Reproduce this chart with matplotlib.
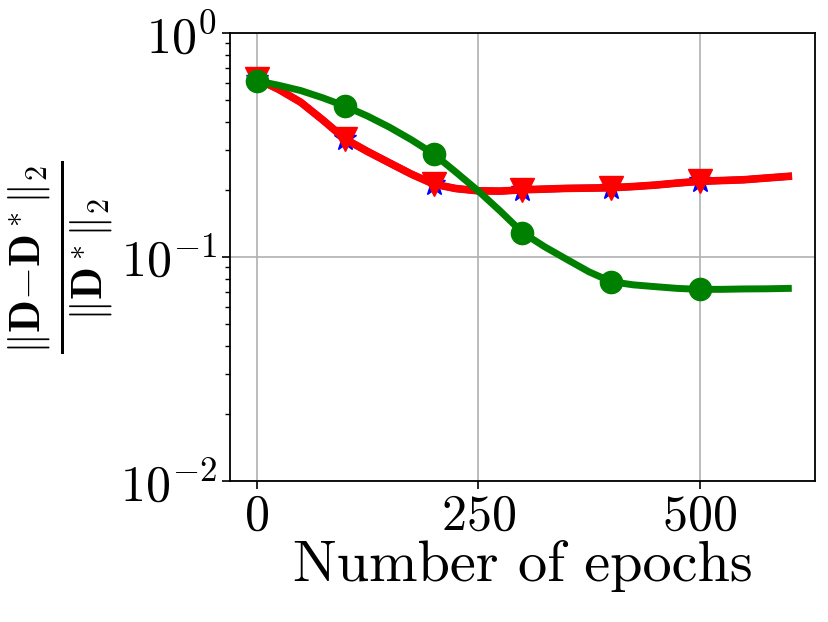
import numpy as np
import matplotlib
matplotlib.use('Agg')
import matplotlib.pyplot as plt

plt.rcParams['mathtext.fontset'] = 'cm'
plt.rcParams['font.family'] = 'serif'
plt.rcParams['font.serif'] = ['cmr10']
plt.rcParams['axes.formatter.use_mathtext'] = True

# values (every 25 epochs, markers every 100)
epochs = [0, 25, 50, 75, 100, 125, 150, 175, 200, 225, 250, 275, 300,
          325, 350, 375, 400, 425, 450, 475, 500, 525, 550, 575, 600]
err_red = [0.625, 0.560, 0.490, 0.408, 0.336, 0.296, 0.263, 0.234, 0.2115, 0.202, 0.1974, 0.1968, 0.1995,
           0.2009, 0.2024, 0.2030, 0.2037, 0.2062, 0.2094, 0.2138, 0.2176, 0.2194, 0.2212, 0.2251, 0.229]
err_blue = [0.625, 0.560, 0.490, 0.408, 0.336, 0.296, 0.263, 0.234, 0.2115, 0.202, 0.1974, 0.1968, 0.1995,
            0.2009, 0.2024, 0.2030, 0.2037, 0.2062, 0.2094, 0.2138, 0.2176, 0.2194, 0.2212, 0.2251, 0.229]
err_green = [0.612, 0.584, 0.553, 0.513, 0.471, 0.426, 0.3795, 0.333, 0.288, 0.239, 0.1974, 0.1602, 0.1286,
             0.1111, 0.0976, 0.0859, 0.0776, 0.0751, 0.0737, 0.0724, 0.0717, 0.0717, 0.0720, 0.0721, 0.0724]
marks = [0, 4, 8, 12, 16, 20]

fig = plt.figure(figsize=(8.29, 6.22), dpi=100)
ax = fig.add_axes([0.2774, 0.2267, 0.983 - 0.2774, 0.947 - 0.2267])

ax.plot(epochs, err_blue, '-', color='blue', lw=5, marker='*', ms=17, markevery=marks)
ax.plot(epochs, err_red, '-', color='red', lw=5.5, marker='v', ms=17, markevery=marks)
ax.plot(epochs, err_green, '-', color='green', lw=5, marker='o', ms=16, markevery=marks)

ax.set_yscale('log')
ax.set_ylim(1e-2, 1e0)
ax.set_xticks([0, 250, 500])
ax.grid(True, which='major', color='#b0b0b0', lw=1.2)
ax.tick_params(axis='both', which='major', labelsize=36, length=6, width=1.2)
ax.tick_params(axis='y', which='minor', length=3.5, width=1)
for s in ax.spines.values():
    s.set_linewidth(1.3)

ax.set_xlabel('Number of epochs', fontsize=42, labelpad=0)
ax.set_ylabel(r'$\frac{\|\mathbf{D}{-}\mathbf{D}^*\|_\mathbf{2}}{\|\mathbf{D}^*\|_2}$', fontsize=44, labelpad=3)

fig.savefig('out.png', dpi=100)
